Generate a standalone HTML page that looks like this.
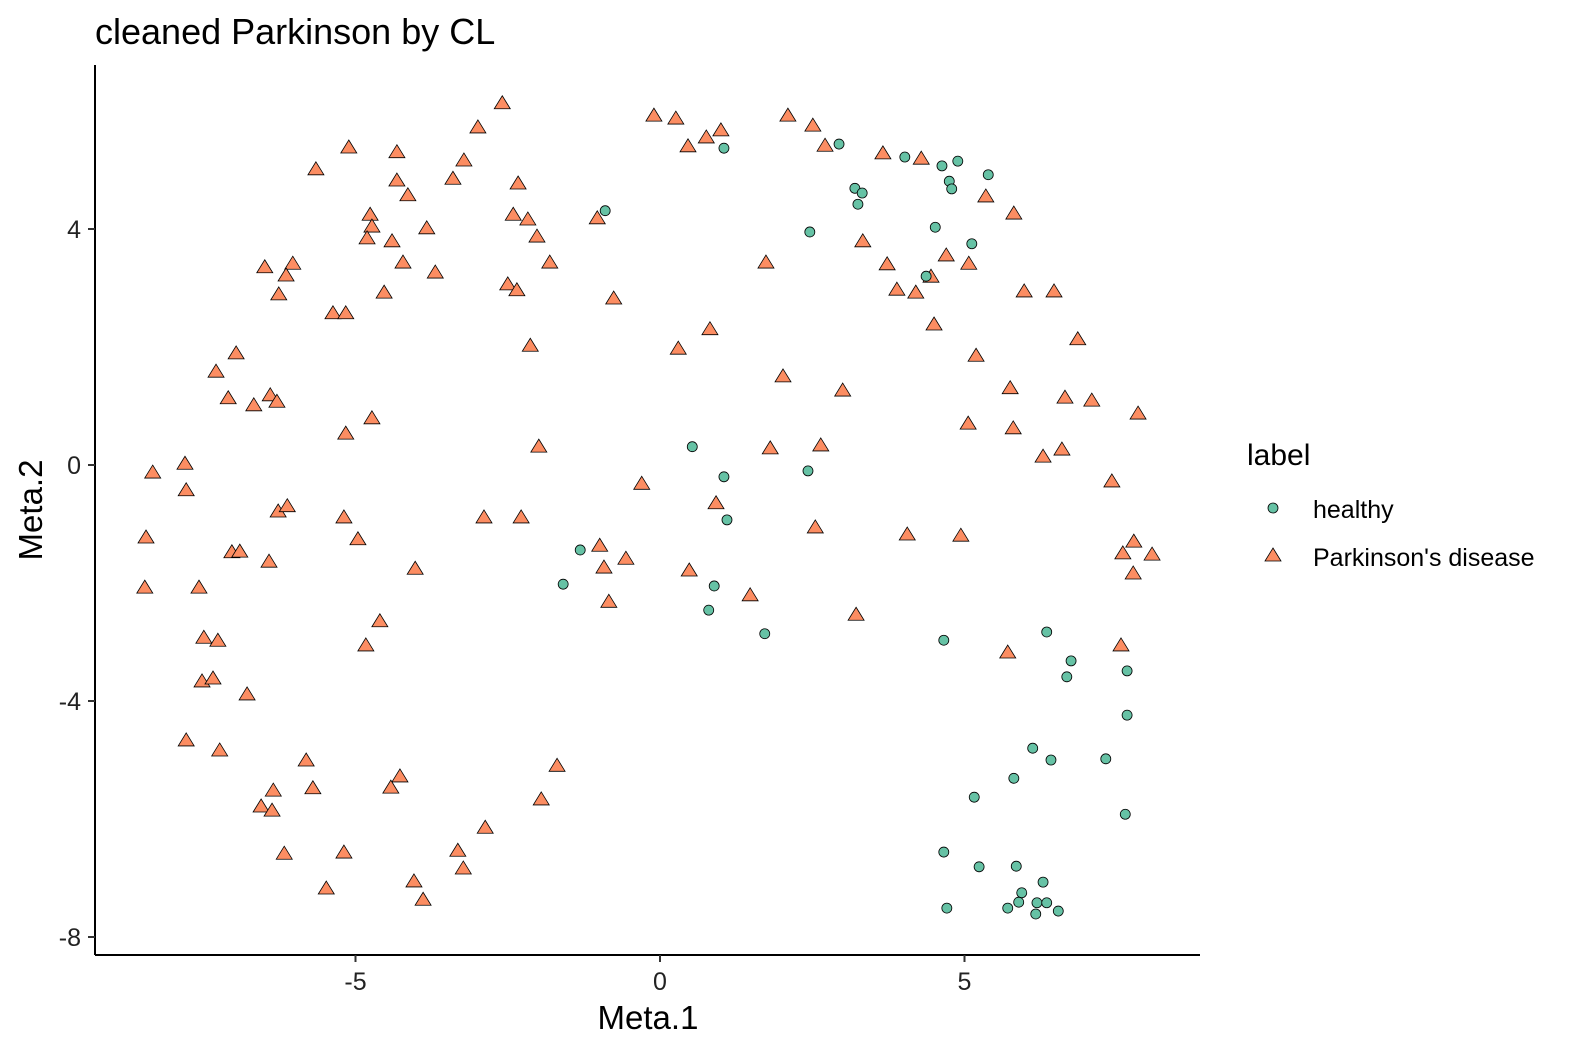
<!DOCTYPE html>
<html><head><meta charset="utf-8">
<style>
html,body{margin:0;padding:0;background:#fff;}
svg{display:block;font-family:"Liberation Sans",Arial,sans-serif;}
</style></head>
<body>
<svg id="chart" width="1577" height="1057" viewBox="0 0 1577 1057">
<text x="95" y="44" font-size="36" fill="#000">cleaned Parkinson by CL</text>
<g id="marks"></g>
<line x1="95" y1="65" x2="95" y2="955" stroke="#000" stroke-width="2"/>
<line x1="95" y1="955" x2="1200" y2="955" stroke="#000" stroke-width="2"/>
<g id="ticks"></g>
<text x="648" y="1029" font-size="33" text-anchor="middle">Meta.1</text>
<text transform="translate(42,510) rotate(-90)" font-size="33" text-anchor="middle">Meta.2</text>
<g>
<text x="1247" y="465" font-size="30">label</text>
<g>
<circle cx="1273" cy="508" r="5" fill="#66c2a5" stroke="#000" stroke-width="0.8"/>
<text x="1313" y="518" font-size="25">healthy</text></g>
<g>
<polygon points="1273,548 1281,561 1265,561" fill="#fc8d62" stroke="#000" stroke-width="0.8"/>
<text x="1313" y="566" font-size="25">Parkinson's disease</text></g>
</g>
</svg>
<script>
const xTicks=[-5,0,5];
const yTicks=[-8,-4,0,4];
const pdX=[-2.59,-0.10,0.26,2.10,-2.99,2.51,1.00,0.76,-5.11,0.46,2.71,-4.32,3.66,-3.22,4.29,-5.65,-3.40,-4.32,-2.33,-4.14,5.35,-4.76,-2.41,5.81,-2.17,-1.03,-4.73,-3.83,-4.81,-2.02,-4.40,3.33,-6.03,-6.49,-4.22,-6.14,-3.69,-1.81,1.74,4.70,5.07,3.73,-2.50,-2.35,-4.53,-6.26,-0.76,4.45,3.89,4.20,5.98,6.47,-5.37,-5.16,4.50,0.82,-2.13,0.30,-6.96,6.86,5.19,-7.29,2.02,5.75,3.00,-7.09,-6.40,-6.67,-6.29,6.65,7.09,7.85,-4.73,5.06,5.80,-5.16,-1.99,2.64,1.81,6.60,6.29,-8.33,-7.80,-7.78,7.42,-0.30,-6.27,-6.12,-5.19,-2.89,-2.28,0.92,-8.44,-4.96,2.55,4.06,4.94,7.78,-7.03,-6.90,-6.42,-0.99,7.60,8.08,-0.56,-4.02,-0.92,0.48,-8.46,-7.57,7.77,-0.84,1.48,-4.60,3.22,-7.49,-7.26,-4.83,7.57,5.71,-7.52,-7.34,-6.78,-7.78,-7.23,-5.81,-1.69,-4.27,-4.42,-5.70,-6.35,-1.95,-6.55,-6.37,-2.87,-6.17,-5.19,-3.32,-3.23,-5.48,-4.04,-3.89];
const pdY=[6.14,5.93,5.88,5.93,5.73,5.76,5.68,5.56,5.39,5.41,5.42,5.31,5.29,5.17,5.20,5.02,4.86,4.83,4.78,4.58,4.56,4.25,4.25,4.27,4.17,4.19,4.05,4.02,3.85,3.88,3.80,3.80,3.42,3.36,3.44,3.22,3.27,3.44,3.44,3.56,3.42,3.41,3.07,2.97,2.93,2.90,2.83,3.20,2.98,2.93,2.95,2.95,2.58,2.58,2.39,2.31,2.03,1.98,1.90,2.14,1.86,1.59,1.51,1.31,1.27,1.14,1.19,1.02,1.08,1.15,1.10,0.88,0.80,0.71,0.63,0.54,0.32,0.34,0.29,0.27,0.15,-0.12,0.03,-0.42,-0.27,-0.31,-0.78,-0.69,-0.88,-0.88,-0.88,-0.64,-1.22,-1.25,-1.05,-1.17,-1.19,-1.29,-1.47,-1.46,-1.63,-1.36,-1.49,-1.51,-1.58,-1.75,-1.73,-1.78,-2.07,-2.07,-1.83,-2.31,-2.20,-2.64,-2.53,-2.92,-2.97,-3.05,-3.05,-3.17,-3.66,-3.61,-3.88,-4.66,-4.83,-5.00,-5.09,-5.27,-5.46,-5.47,-5.51,-5.66,-5.78,-5.85,-6.14,-6.58,-6.56,-6.53,-6.83,-7.17,-7.05,-7.36];
const hX=[1.05,2.94,4.02,4.89,4.63,5.39,4.75,4.79,3.20,3.32,3.25,-0.90,4.52,2.46,5.12,4.37,0.53,1.05,2.43,1.10,-1.31,-1.59,0.89,0.80,1.72,4.66,6.35,6.75,6.68,7.67,7.67,6.12,6.42,7.32,5.81,5.16,7.64,4.66,5.24,5.85,5.94,6.29,5.89,6.19,6.35,5.71,6.17,6.54,4.71];
const hY=[5.37,5.44,5.22,5.15,5.07,4.92,4.81,4.68,4.69,4.61,4.42,4.31,4.03,3.95,3.75,3.20,0.31,-0.20,-0.10,-0.93,-1.44,-2.02,-2.05,-2.46,-2.86,-2.97,-2.83,-3.32,-3.59,-3.49,-4.24,-4.80,-5.00,-4.98,-5.31,-5.63,-5.92,-6.56,-6.81,-6.80,-7.25,-7.07,-7.41,-7.42,-7.42,-7.51,-7.61,-7.56,-7.51];

const NS='http://www.w3.org/2000/svg';
function sx(v){return 660+60.9*v;}
function sy(v){return 465-59*v;}
const marks=document.getElementById('marks');
const ticks=document.getElementById('ticks');

xTicks.forEach(t=>{
  const l=document.createElementNS(NS,'line');
  l.setAttribute('x1',sx(t));l.setAttribute('x2',sx(t));l.setAttribute('y1',955);l.setAttribute('y2',962);
  l.setAttribute('stroke','#333');l.setAttribute('stroke-width','2');
  
  
  ticks.appendChild(l);
  const tx=document.createElementNS(NS,'text');
  tx.setAttribute('x',sx(t));tx.setAttribute('y',990);tx.setAttribute('font-size','25');
  tx.setAttribute('text-anchor','middle');tx.setAttribute('fill','#222');
  tx.textContent=t;
  
  
  ticks.appendChild(tx);
});
yTicks.forEach(t=>{
  const l=document.createElementNS(NS,'line');
  l.setAttribute('x1',88);l.setAttribute('x2',95);l.setAttribute('y1',sy(t));l.setAttribute('y2',sy(t));
  l.setAttribute('stroke','#333');l.setAttribute('stroke-width','2');
  
  
  ticks.appendChild(l);
  const tx=document.createElementNS(NS,'text');
  tx.setAttribute('x',81);tx.setAttribute('y',sy(t)+9);tx.setAttribute('font-size','25');
  tx.setAttribute('text-anchor','end');tx.setAttribute('fill','#222');
  tx.textContent=t;
  
  
  ticks.appendChild(tx);
});

pdX.forEach((v,i)=>{
  const cx=sx(v),cy=sy(pdY[i]);
  const p=document.createElementNS(NS,'polygon');
  p.setAttribute('points',`${cx},${cy-7} ${cx+8},${cy+6} ${cx-8},${cy+6}`);
  p.setAttribute('fill','#fc8d62');p.setAttribute('stroke','#000');p.setAttribute('stroke-width','0.8');
  
  
  marks.appendChild(p);
});
hX.forEach((v,i)=>{
  const c=document.createElementNS(NS,'circle');
  c.setAttribute('cx',sx(v));c.setAttribute('cy',sy(hY[i]));c.setAttribute('r','5');
  c.setAttribute('fill','#66c2a5');c.setAttribute('stroke','#000');c.setAttribute('stroke-width','0.8');
  
  
  marks.appendChild(c);
});
</script>
</body></html>
